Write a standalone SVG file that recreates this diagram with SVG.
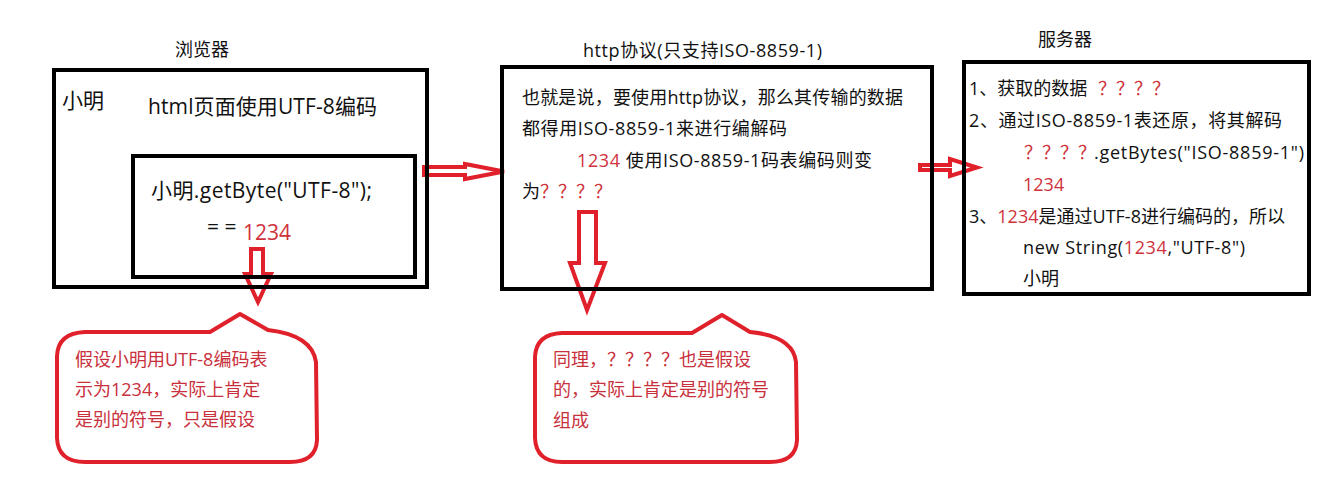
<svg xmlns="http://www.w3.org/2000/svg" width="1319" height="500" viewBox="0 0 1319 500">
<style>
text{font-family:"Open Sans","Noto Sans CJK SC",sans-serif;fill:#111}
.t{font-size:18px}
.m{font-size:21px}
.r{fill:#d0323c}
.box{fill:none;stroke:#000;stroke-width:4}
.arr{fill:#fff;stroke:#e0202a;stroke-width:4;stroke-linejoin:miter}
.bub{fill:#fff;stroke:#e0202a;stroke-width:4;stroke-linejoin:round}
.bt{font-size:18px;fill:#c8303c}
</style>
<rect width="1319" height="500" fill="#fff"/>
<g id="connectors">
<polygon class="arr" points="424,167 465,167 465,164 504,171.5 465,179 465,175 424,175"/>
<polygon class="arr" points="920,165 950,165 950,159 977,167.5 950,176 950,170 920,170"/>
<polygon class="arr" points="251,249 263,249 263,274 271,274 258,302 245,274 251,274"/>
<polygon class="arr" points="579,212 596,212 596,263 605,263 587,310 570,263 579,263"/>
</g>
<g id="browser">
<text class="t" x="175" y="56">浏览器</text>
<rect class="box" x="54" y="70" width="373" height="217"/>
<text class="m" x="62" y="108">小明</text>
<text class="m" x="148" y="114" textLength="229">html页面使用UTF-8编码</text>
</g>
<g id="getbyte">
<rect class="box" x="133" y="156" width="282" height="121"/>
<text class="m" x="151" y="198" textLength="221">小明.getByte("UTF-8");</text>
<text class="m" x="207" y="234">= =</text>
<text class="m r" x="243" y="240">1234</text>
</g>
<g id="http">
<text class="t" x="583" y="57" textLength="239">http协议(只支持ISO-8859-1)</text>
<rect class="box" x="502" y="67" width="430" height="222"/>
<text class="t" x="522" y="104" textLength="381">也就是说，要使用http协议，那么其传输的数据</text>
<text class="t" x="522" y="135" textLength="265">都得用ISO-8859-1来进行编解码</text>
<text class="t" x="577" y="167" textLength="295"><tspan class="r">1234</tspan> 使用ISO-8859-1码表编码则变</text>
<text class="t" x="522" y="198">为<tspan class="r">？？？？</tspan></text>
</g>
<g id="server">
<text class="t" x="1038" y="46">服务器</text>
<rect class="box" x="964" y="62" width="345" height="232"/>
<text class="t" x="969" y="95">1、获取的数据<tspan class="r" x="1098">？？？？</tspan></text>
<text class="t" x="969" y="127" textLength="313">2、通过ISO-8859-1表还原，将其解码</text>
<text class="t" x="1024" y="159"><tspan class="r">？？？？</tspan><tspan x="1094" textLength="210">.getBytes("ISO-8859-1")</tspan></text>
<text class="t r" x="1023" y="191">1234</text>
<text class="t" x="969" y="223" textLength="316">3、<tspan class="r">1234</tspan>是通过UTF-8进行编码的，所以</text>
<text class="t" x="1023" y="254" textLength="222">new String(<tspan class="r">1234</tspan>,"UTF-8")</text>
<text class="t" x="1023" y="285">小明</text>
</g>
<g id="note1">
<path class="bub" d="M85 332 L210 332 L240 314 L268 330 Q312 335 316 362 L317 440 Q316 462 290 462 L85 462 Q58 462 57 438 L57 356 Q58 333 85 332 Z"/>
<text class="bt" x="75" y="366">假设小明用UTF-8编码表</text>
<text class="bt" x="75" y="396">示为1234，实际上肯定</text>
<text class="bt" x="75" y="426">是别的符号，只是假设</text>
</g>
<g id="note2">
<path class="bub" d="M562 333 L692 333 L722 315 L750 332 Q793 336 796 362 L797 440 Q796 462 770 462 L562 462 Q536 462 535 438 L535 357 Q536 334 562 333 Z"/>
<text class="bt" x="553" y="366">同理，？？？？也是假设</text>
<text class="bt" x="553" y="396">的，实际上肯定是别的符号</text>
<text class="bt" x="553" y="427">组成</text>
</g>
</svg>
